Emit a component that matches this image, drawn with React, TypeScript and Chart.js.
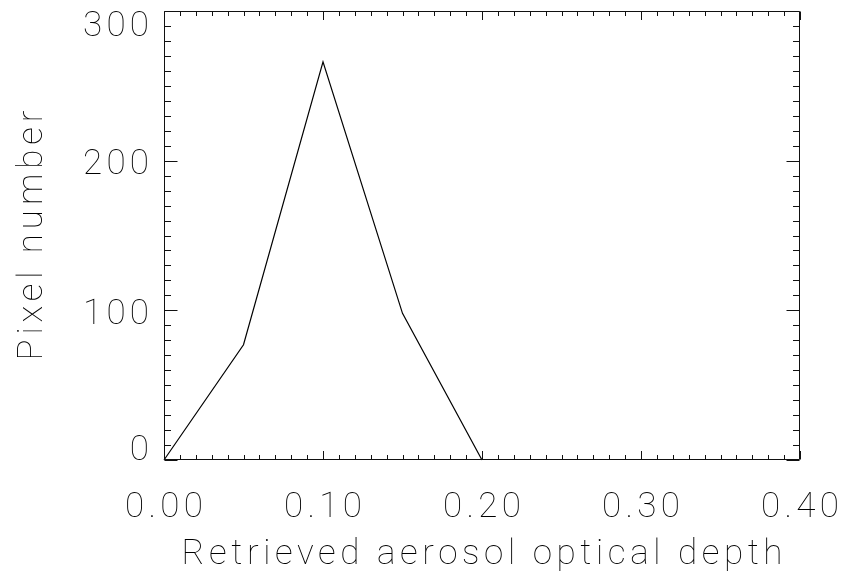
import React, { useEffect, useRef } from "react";
import { Chart, registerables } from "chart.js";

Chart.register(...registerables);

// ---- data ----
const aodValues = [0.0, 0.05, 0.1, 0.15, 0.2];
const pixelCounts = [0, 77, 266, 98, 0];

const xTickValues = [0.0, 0.1, 0.2, 0.3, 0.4];
const xTickLabels = ["0.00", "0.10", "0.20", "0.30", "0.40"];
const yTickValues = [0, 100, 200, 300];
const yTickLabels = ["0", "100", "200", "300"];
const xMinorStep = 0.01;
const yMinorStep = 10;
const xRange = [0, 0.4];
const yRange = [0, 300];
const xTitle = "Retrieved aerosol optical depth";
const yTitle = "Pixel number";

const FONT = "100 35px Roboto, 'DejaVu Sans', sans-serif";
const TEXT_COLOR = "#000";
const AXIS_COLOR = "#111";

const idlAxesPlugin = {
  id: "idlAxes",
  afterDraw(chart: any) {
    const ctx: CanvasRenderingContext2D = chart.ctx;
    const xs = chart.scales.x;
    const ys = chart.scales.y;
    const { left, right, top, bottom } = chart.chartArea;
    const L = Math.round(left) + 0.5;
    const R = Math.round(right) - 0.5;
    const T = Math.round(top) + 0.5;
    const B = Math.round(bottom) - 0.5;

    ctx.save();
    ctx.strokeStyle = AXIS_COLOR;
    ctx.lineWidth = 1;
    ctx.beginPath();
    ctx.rect(L, T, R - L, B - T);
    ctx.stroke();

    // x ticks (bottom & top)
    const nx = Math.round((xRange[1] - xRange[0]) / xMinorStep);
    ctx.beginPath();
    for (let i = 0; i <= nx; i++) {
      const v = xRange[0] + i * xMinorStep;
      const px = Math.round(xs.getPixelForValue(v)) + 0.5;
      const major = i % 10 === 0;
      const len = major ? 8.5 : 4.5;
      ctx.moveTo(px, B);
      ctx.lineTo(px, B - len);
      ctx.moveTo(px, T);
      ctx.lineTo(px, T + len);
    }
    // y ticks (left & right)
    const ny = Math.round((yRange[1] - yRange[0]) / yMinorStep);
    for (let i = 0; i <= ny; i++) {
      const v = yRange[0] + i * yMinorStep;
      const py = Math.round(ys.getPixelForValue(v)) + 0.5;
      const major = i % 10 === 0;
      const len = major ? 13 : 6.5;
      ctx.moveTo(L, py);
      ctx.lineTo(L + len, py);
      ctx.moveTo(R, py);
      ctx.lineTo(R - len, py);
    }
    ctx.stroke();

    // text
    ctx.fillStyle = TEXT_COLOR;
    ctx.font = FONT;
    ctx.textAlign = "left";
    ctx.textBaseline = "alphabetic";
    const anyCtx = ctx as any;
    anyCtx.letterSpacing = "0px";
    const capH = 25;
    const refW = ctx.measureText("300").width;
    const tickLs = (66 - refW) / 2;

    const spacedWidth = (s: string, ls: number) => {
      anyCtx.letterSpacing = "0px";
      return ctx.measureText(s).width + ls * (s.length - 1);
    };

    // x tick labels
    xTickValues.forEach((v, i) => {
      const s = xTickLabels[i];
      const w = spacedWidth(s, tickLs);
      const px = xs.getPixelForValue(v);
      anyCtx.letterSpacing = tickLs + "px";
      ctx.fillText(s, px - w / 2, bottom + 57);
    });

    // y tick labels
    yTickValues.forEach((v, i) => {
      const s = yTickLabels[i];
      const w = spacedWidth(s, tickLs);
      const py = ys.getPixelForValue(v);
      const c = Math.min(Math.max(py + 1, top + capH / 2), bottom - capH / 2);
      anyCtx.letterSpacing = tickLs + "px";
      ctx.fillText(s, left - 15 - w, c + capH / 2);
    });

    // x title
    {
      anyCtx.letterSpacing = "0px";
      const w0 = ctx.measureText(xTitle).width;
      const target = 601;
      const ls = (target - w0) / (xTitle.length - 1);
      anyCtx.letterSpacing = ls + "px";
      const cx = (left + right) / 2;
      ctx.fillText(xTitle, cx - target / 2, bottom + 104);
    }

    // y title
    {
      anyCtx.letterSpacing = "0px";
      const w0 = ctx.measureText(yTitle).width;
      const target = 250;
      const ls = (target - w0) / (yTitle.length - 1);
      anyCtx.letterSpacing = ls + "px";
      const cy = (top + bottom) / 2;
      ctx.save();
      ctx.translate(42, cy);
      ctx.rotate(-Math.PI / 2);
      ctx.fillText(yTitle, -target / 2, 0);
      ctx.restore();
    }
    anyCtx.letterSpacing = "0px";
    ctx.restore();
  },
};

export default function App() {
  const canvasRef = useRef<HTMLCanvasElement | null>(null);

  useEffect(() => {
    document.body.style.margin = "0";
    const canvas = canvasRef.current;
    if (!canvas) return;
    const chart = new Chart(canvas, {
      type: "line",
      data: {
        datasets: [
          {
            data: aodValues.map((x, i) => ({ x, y: pixelCounts[i] })),
            borderColor: "#000",
            borderWidth: 1.2,
            pointRadius: 0,
            tension: 0,
            fill: false,
            clip: false as any,
          },
        ],
      },
      options: {
        responsive: false,
        animation: false,
        events: [],
        layout: { padding: { left: 164, top: 11, right: 42, bottom: 116 } },
        scales: {
          x: { type: "linear", min: xRange[0], max: xRange[1], display: false },
          y: { type: "linear", min: yRange[0], max: yRange[1], display: false },
        },
        plugins: { legend: { display: false }, tooltip: { enabled: false } },
      },
      plugins: [idlAxesPlugin],
    });
    return () => chart.destroy();
  }, []);

  return (
    <div style={{ position: "absolute", left: 0, top: 0, width: 842, height: 576, background: "#fff" }}>
      <canvas ref={canvasRef} width={842} height={576} />
    </div>
  );
}
